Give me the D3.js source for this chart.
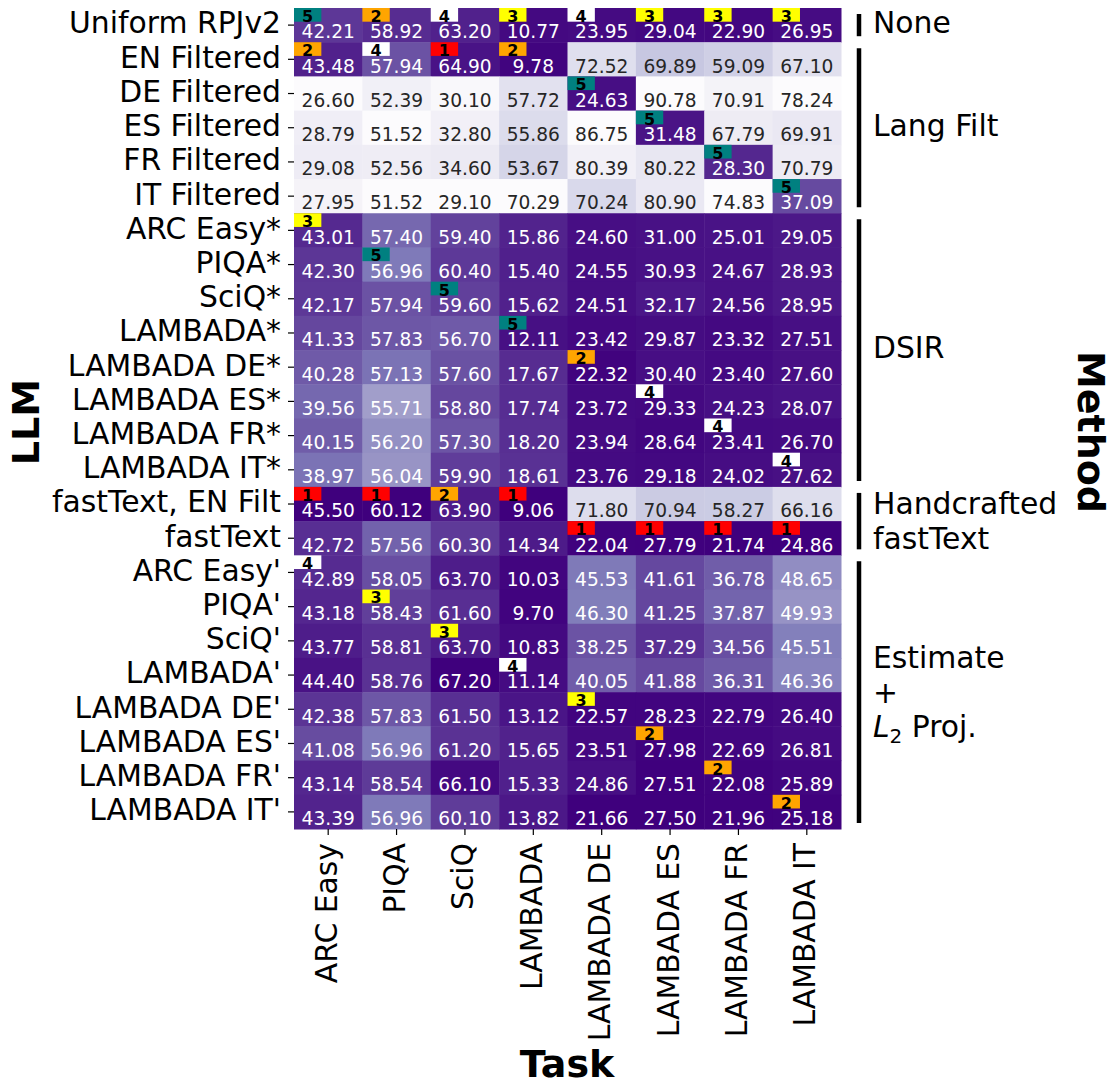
<!DOCTYPE html>
<html>
<head>
<meta charset="utf-8">
<script src="https://cdn.jsdelivr.net/npm/d3@7.9.0/dist/d3.min.js"></script>
<style>
  body { margin: 0; background: #fff; }
  svg { display: block; font-family: "DejaVu Sans", sans-serif; }
</style>
</head>
<body>
<svg id="chart" width="1119" height="1090"></svg>
<script>
const tasks = ['ARC Easy', 'PIQA', 'SciQ', 'LAMBADA', 'LAMBADA DE', 'LAMBADA ES', 'LAMBADA FR', 'LAMBADA IT'];
// accuracy tasks: higher is better, LAMBADA perplexities: lower is better
const higherIsBetter = [true, true, true, false, false, false, false, false];

const methods = [
  'Uniform RPJv2', 'EN Filtered', 'DE Filtered', 'ES Filtered', 'FR Filtered', 'IT Filtered',
  'ARC Easy*', 'PIQA*', 'SciQ*', 'LAMBADA*', 'LAMBADA DE*', 'LAMBADA ES*', 'LAMBADA FR*', 'LAMBADA IT*',
  'fastText, EN Filt', 'fastText',
  "ARC Easy'", "PIQA'", "SciQ'", "LAMBADA'", "LAMBADA DE'", "LAMBADA ES'", "LAMBADA FR'", "LAMBADA IT'"
];

const values = [
  [42.21, 58.92, 63.20, 10.77, 23.95, 29.04, 22.90, 26.95],
  [43.48, 57.94, 64.90, 9.78, 72.52, 69.89, 59.09, 67.10],
  [26.60, 52.39, 30.10, 57.72, 24.63, 90.78, 70.91, 78.24],
  [28.79, 51.52, 32.80, 55.86, 86.75, 31.48, 67.79, 69.91],
  [29.08, 52.56, 34.60, 53.67, 80.39, 80.22, 28.30, 70.79],
  [27.95, 51.52, 29.10, 70.29, 70.24, 80.90, 74.83, 37.09],
  [43.01, 57.40, 59.40, 15.86, 24.60, 31.00, 25.01, 29.05],
  [42.30, 56.96, 60.40, 15.40, 24.55, 30.93, 24.67, 28.93],
  [42.17, 57.94, 59.60, 15.62, 24.51, 32.17, 24.56, 28.95],
  [41.33, 57.83, 56.70, 12.11, 23.42, 29.87, 23.32, 27.51],
  [40.28, 57.13, 57.60, 17.67, 22.32, 30.40, 23.40, 27.60],
  [39.56, 55.71, 58.80, 17.74, 23.72, 29.33, 24.23, 28.07],
  [40.15, 56.20, 57.30, 18.20, 23.94, 28.64, 23.41, 26.70],
  [38.97, 56.04, 59.90, 18.61, 23.76, 29.18, 24.02, 27.62],
  [45.50, 60.12, 63.90, 9.06, 71.80, 70.94, 58.27, 66.16],
  [42.72, 57.56, 60.30, 14.34, 22.04, 27.79, 21.74, 24.86],
  [42.89, 58.05, 63.70, 10.03, 45.53, 41.61, 36.78, 48.65],
  [43.18, 58.43, 61.60, 9.70, 46.30, 41.25, 37.87, 49.93],
  [43.77, 58.81, 63.70, 10.83, 38.25, 37.29, 34.56, 45.51],
  [44.40, 58.76, 67.20, 11.14, 40.05, 41.88, 36.31, 46.36],
  [42.38, 57.83, 61.50, 13.12, 22.57, 28.23, 22.79, 26.40],
  [41.08, 56.96, 61.20, 15.65, 23.51, 27.98, 22.69, 26.81],
  [43.14, 58.54, 66.10, 15.33, 24.86, 27.51, 22.08, 25.89],
  [43.39, 56.96, 60.10, 13.82, 21.66, 27.50, 21.96, 25.18]
];

// [row, column, rank]
const ranks = [
  [0, 0, 5], [0, 1, 2], [0, 2, 4], [0, 3, 3], [0, 4, 4], [0, 5, 3], [0, 6, 3], [0, 7, 3],
  [1, 0, 2], [1, 1, 4], [1, 2, 1], [1, 3, 2],
  [2, 4, 5], [3, 5, 5], [4, 6, 5], [5, 7, 5],
  [6, 0, 3], [7, 1, 5], [8, 2, 5], [9, 3, 5], [10, 4, 2], [11, 5, 4], [12, 6, 4], [13, 7, 4],
  [14, 0, 1], [14, 1, 1], [14, 2, 2], [14, 3, 1],
  [15, 4, 1], [15, 5, 1], [15, 6, 1], [15, 7, 1],
  [16, 0, 4], [17, 1, 3], [18, 2, 3], [19, 3, 4], [20, 4, 3], [21, 5, 2], [22, 6, 2], [23, 7, 2]
];
const rankColors = { 1: '#ff0000', 2: '#ffa500', 3: '#ffff00', 4: '#ffffff', 5: '#008080' };

// method groups: first and last row of each
const groupNames = ['None', 'Lang Filt', 'DSIR', 'Handcrafted\nfastText', 'Estimate\n+\nL2 Proj.'];
const groupRows = [[0, 0], [1, 5], [6, 13], [14, 15], [16, 23]];

const svg = d3.select('#chart');
const labelSize = 29.8;

const x = d3.scaleBand().domain(d3.range(tasks.length)).range([294, 841]);
const y = d3.scaleBand().domain(d3.range(methods.length)).range([8, 829]);
const bw = x.bandwidth(), bh = y.bandwidth();

// matplotlib Purples = the 9 colorbrewer stops, linearly interpolated
const purples = d3.scaleLinear()
  .domain(d3.range(9).map(i => i / 8))
  .range(d3.schemePurples[9])
  .interpolate(d3.interpolateRgb)
  .clamp(true);

// per-task normalisation, best value -> darkest
const colScales = tasks.map((t, j) => {
  const ext = d3.extent(values, row => row[j]);
  return d3.scaleLinear()
    .domain(higherIsBetter[j] ? ext : [ext[1], ext[0]])
    .range([0, 1]);
});

function luminance(c) {
  const rgb = d3.rgb(c);
  const lin = [rgb.r, rgb.g, rgb.b].map(v => {
    v /= 255;
    return v <= 0.03928 ? v / 12.92 : Math.pow((v + 0.055) / 1.055, 2.4);
  });
  return 0.2126 * lin[0] + 0.7152 * lin[1] + 0.0722 * lin[2];
}

const cells = [];
values.forEach((row, i) => row.forEach((v, j) => {
  const fill = purples(colScales[j](v));
  cells.push({ i, j, v, fill });
}));

const cellG = svg.append('g');
cellG.selectAll('rect')
  .data(cells)
  .join('rect')
  .attr('x', d => x(d.j))
  .attr('y', d => y(d.i))
  .attr('width', bw + 0.5)
  .attr('height', bh + 0.5)
  .attr('fill', d => d.fill);

cellG.selectAll('text')
  .data(cells)
  .join('text')
  .attr('x', d => x(d.j) + bw / 2)
  .attr('y', d => y(d.i) + bh * 0.7)
  .attr('dy', '0.35em')
  .attr('text-anchor', 'middle')
  .attr('font-size', 18.6)
  .attr('fill', d => luminance(d.fill) > 0.408 ? '#262626' : '#ffffff')
  .text(d => d.v.toFixed(2));

// rank badges
const badgeG = svg.append('g');
badgeG.selectAll('rect')
  .data(ranks)
  .join('rect')
  .attr('x', d => x(d[1]))
  .attr('y', d => y(d[0]))
  .attr('width', bw * 0.4)
  .attr('height', bh * 0.4)
  .attr('fill', d => rankColors[d[2]]);

badgeG.selectAll('text')
  .data(ranks)
  .join('text')
  .attr('x', d => x(d[1]) + bw * 0.2)
  .attr('y', d => y(d[0]) + bh * 0.2 + 1.5)
  .attr('dy', '0.35em')
  .attr('text-anchor', 'middle')
  .attr('font-size', 16)
  .attr('font-weight', 'bold')
  .attr('fill', '#000')
  .text(d => d[2]);

// y axis
const yAxis = svg.append('g')
  .attr('transform', 'translate(294,0)')
  .call(d3.axisLeft(y).tickSize(6).tickPadding(7).tickFormat(i => methods[i]));
yAxis.select('.domain').remove();
yAxis.selectAll('.tick line').attr('stroke-width', 1.2);
yAxis.selectAll('.tick text')
  .attr('font-size', labelSize)
  .attr('font-family', '"DejaVu Sans", sans-serif')
  .attr('fill', '#000')
  .attr('dy', '0.28em');

// x axis
const xAxis = svg.append('g')
  .attr('transform', 'translate(0,829)')
  .call(d3.axisBottom(x).tickSize(6).tickFormat(j => tasks[j]));
xAxis.select('.domain').remove();
xAxis.selectAll('.tick line').attr('stroke-width', 1.2);
xAxis.selectAll('.tick text')
  .attr('font-size', labelSize)
  .attr('font-family', '"DejaVu Sans", sans-serif')
  .attr('fill', '#000')
  .attr('text-anchor', 'end')
  .attr('transform', 'rotate(-90)')
  .attr('x', -14)
  .attr('y', -2)
  .attr('dy', '0.35em');

// method group brackets
const lineH = 34.8;
groupRows.forEach(([a, b], k) => {
  const top = y(a) + 6, bottom = y(b) + bh - 6;
  svg.append('line')
    .attr('x1', 859).attr('x2', 859)
    .attr('y1', top).attr('y2', bottom)
    .attr('stroke', '#000')
    .attr('stroke-width', 4.5);

  const lines = groupNames[k].split('\n');
  const mid = (y(a) + y(b) + bh) / 2;
  const off = lines.length > 1 ? 2 : 0;
  lines.forEach((ln, li) => {
    const t = svg.append('text')
      .attr('x', 873)
      .attr('y', mid + (li - (lines.length - 1) / 2) * lineH + off)
      .attr('dy', '0.28em')
      .attr('font-size', labelSize)
      .attr('fill', '#000');
    if (ln.startsWith('L2')) {
      t.append('tspan').attr('font-style', 'italic').text('L');
      t.append('tspan').attr('font-size', 20).attr('dy', 6).text('2');
      t.append('tspan').attr('dy', -6).text(ln.slice(2));
    } else {
      t.text(ln);
    }
  });
});

// axis titles
svg.append('text')
  .attr('transform', 'translate(39,422) rotate(-90)')
  .attr('text-anchor', 'middle')
  .attr('font-size', 38)
  .attr('font-weight', 'bold')
  .text('LLM');

svg.append('text')
  .attr('x', 567)
  .attr('y', 1077)
  .attr('text-anchor', 'middle')
  .attr('font-size', 38)
  .attr('font-weight', 'bold')
  .text('Task');

svg.append('text')
  .attr('transform', 'translate(1078,432) rotate(90)')
  .attr('text-anchor', 'middle')
  .attr('font-size', 38)
  .attr('font-weight', 'bold')
  .text('Method');
</script>
</body>
</html>
